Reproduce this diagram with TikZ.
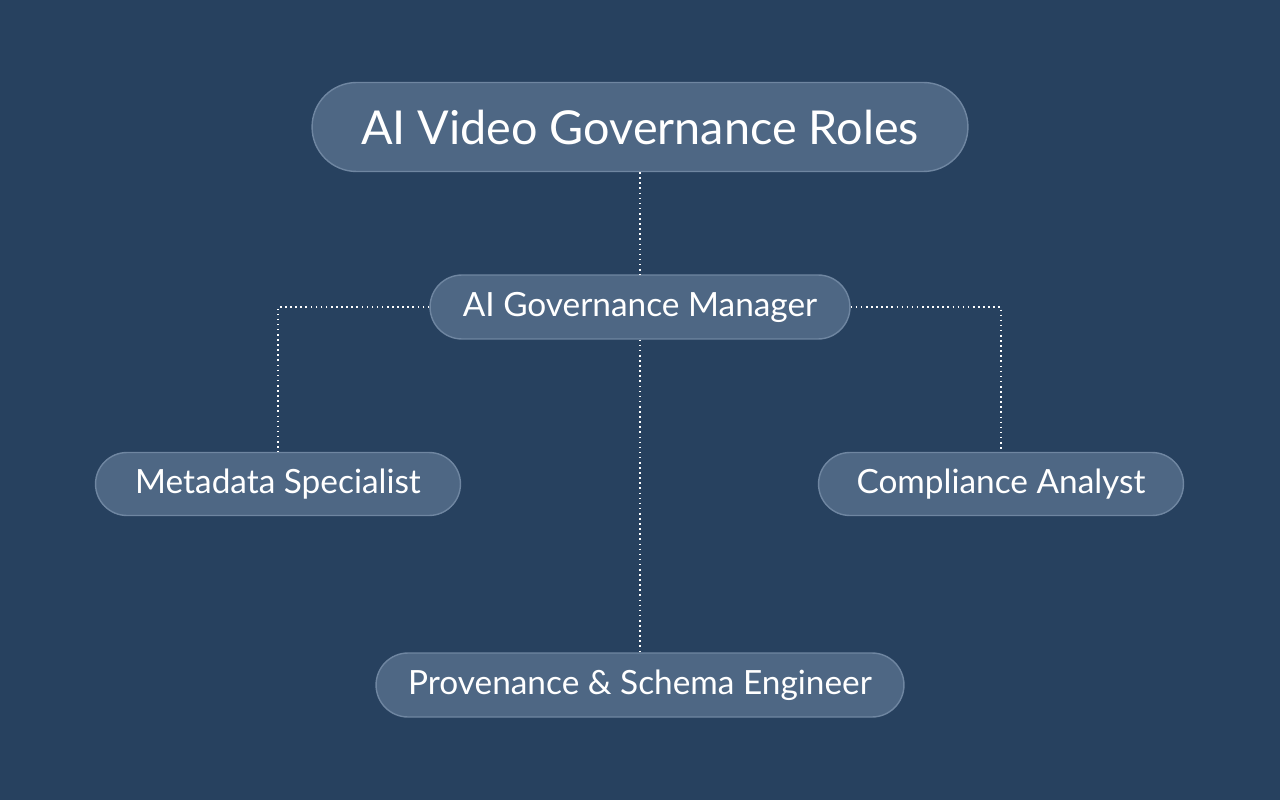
\documentclass[tikz,border=0pt]{standalone}
\usepackage{fontspec}
\setmainfont{Lato}
\begin{document}
\begin{tikzpicture}[x=0.02cm,y=-0.02cm,
  box/.style={draw=boxline,line width=0.8pt,fill=boxfill,rounded corners=#1,text=white,inner sep=0pt},
  link/.style={draw=white,line width=0.9pt,dotted}]
\definecolor{bg}{HTML}{27415F}
\definecolor{boxfill}{HTML}{4E6784}
\definecolor{boxline}{HTML}{6F86A1}
\fill[bg] (0,0) rectangle (1280,800);
\useasboundingbox (0,0) rectangle (1280,800);
\node[box=0.89cm,minimum width=13.12cm,minimum height=1.78cm,font=\fontsize{26.6}{30}\selectfont] (t) at (640,127) {AI Video Governance Roles};
\node[box=0.64cm,minimum width=8.4cm,minimum height=1.28cm,font=\fontsize{19}{22}\selectfont] (m) at (640,307) {AI Governance Manager};
\node[box=0.63cm,minimum width=7.3cm,minimum height=1.26cm,font=\fontsize{19}{22}\selectfont] (a) at (278,484) {Metadata Specialist};
\node[box=0.63cm,minimum width=7.3cm,minimum height=1.26cm,font=\fontsize{19}{22}\selectfont] (c) at (1001,484) {Compliance Analyst};
\node[box=0.64cm,minimum width=10.56cm,minimum height=1.28cm,font=\fontsize{19}{22}\selectfont] (p) at (640,685) {Provenance \& Schema Engineer};
\draw[link] (t) -- (m);
\draw[link] (m.west) -| (a.north);
\draw[link] (m.east) -| (c.north);
\draw[link] (m) -- (p);
\end{tikzpicture}
\end{document}
